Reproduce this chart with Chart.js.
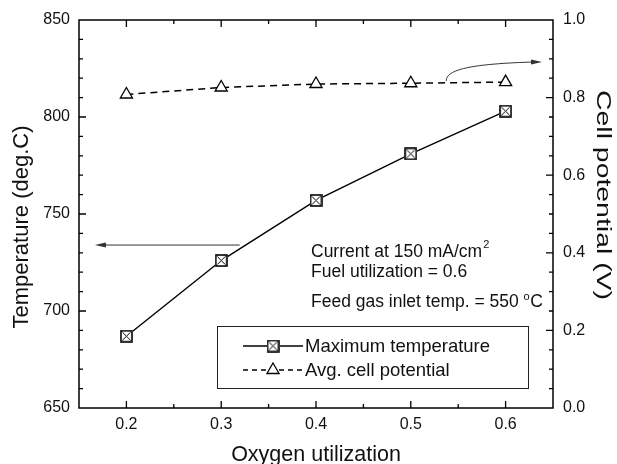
<!DOCTYPE html>
<html>
<head>
<meta charset="utf-8">
<script src="https://cdn.jsdelivr.net/npm/chart.js@4.4.1/dist/chart.umd.min.js"></script>
<style>
  html, body { margin: 0; padding: 0; background: #fff; }
  #wrap { width: 617px; height: 464px; }
</style>
</head>
<body>
<div id="wrap"><canvas id="chart" width="617" height="464"></canvas></div>
<script>
// oxygen utilization vs max temperature / avg cell potential
const oxygenUtil = [0.2, 0.3, 0.4, 0.5, 0.6];
const maxTemp = [687, 726, 757, 781, 803];
const avgPotential = [0.808, 0.826, 0.835, 0.837, 0.840];

const xTicks = [0.2, 0.3, 0.4, 0.5, 0.6];
const tempTicks = [650, 700, 750, 800, 850];
const voltTicks = [0, 0.2, 0.4, 0.6, 0.8, 1.0];

const FONT = '"Liberation Sans", Arial, Helvetica, sans-serif';
const INK = '#111';

// square marker with an X through it
function crossBox() {
  const s = 13;
  const c = document.createElement('canvas');
  c.width = s; c.height = s;
  const g = c.getContext('2d');
  g.fillStyle = '#fff';
  g.fillRect(0, 0, s, s);
  g.strokeStyle = '#000';
  g.lineWidth = 1.6;
  g.strokeRect(1, 1, s - 2, s - 2);
  g.lineWidth = 1;
  g.beginPath();
  g.moveTo(2.5, 2.5); g.lineTo(s - 2.5, s - 2.5);
  g.moveTo(s - 2.5, 2.5); g.lineTo(2.5, s - 2.5);
  g.stroke();
  return c;
}
const boxImg = crossBox();

function arrowHead(ctx, x, y, ang, len, half) {
  ctx.save();
  ctx.translate(x, y);
  ctx.rotate(ang);
  ctx.beginPath();
  ctx.moveTo(0, 0);
  ctx.lineTo(-len, -half);
  ctx.lineTo(-len, half);
  ctx.closePath();
  ctx.fill();
  ctx.restore();
}

const decorations = {
  id: 'decorations',
  afterDraw(chart) {
    const ctx = chart.ctx;
    const { left, right, top, bottom } = chart.chartArea;
    const sx = chart.scales.x, sy = chart.scales.y, sv = chart.scales.y2;

    ctx.save();
    // frame
    ctx.strokeStyle = '#000';
    ctx.lineWidth = 1.5;
    ctx.strokeRect(left, top, right - left, bottom - top);

    // inward ticks, all four sides
    ctx.lineWidth = 1.3;
    ctx.beginPath();
    for (let i = 4; i <= 12; i++) {
      const px = sx.getPixelForValue(i * 0.05);
      const len = i % 2 === 0 ? 7 : 4;
      ctx.moveTo(px, bottom); ctx.lineTo(px, bottom - len);
      ctx.moveTo(px, top); ctx.lineTo(px, top + len);
    }
    for (let t = 660; t < 850; t += 10) {
      const py = sy.getPixelForValue(t);
      const len = t % 50 === 0 ? 7 : 4;
      ctx.moveTo(left, py); ctx.lineTo(left + len, py);
    }
    for (let i = 1; i < 20; i++) {
      const py = sv.getPixelForValue(i * 0.05);
      const len = i % 4 === 0 ? 7 : 4;
      ctx.moveTo(right, py); ctx.lineTo(right - len, py);
    }
    ctx.stroke();

    // axis titles
    ctx.fillStyle = INK;
    ctx.textAlign = 'center';
    ctx.textBaseline = 'alphabetic';
    ctx.font = '21.5px ' + FONT;
    ctx.fillText('Oxygen utilization', (left + right) / 2, 461);

    ctx.save();
    ctx.font = '22px ' + FONT;
    ctx.translate(28, 227);
    ctx.rotate(-Math.PI / 2);
    ctx.fillText('Temperature (deg.C)', 0, 0);
    ctx.restore();

    ctx.save();
    ctx.font = '21px ' + FONT;
    const rt = 'Cell potential (V)';
    const w = ctx.measureText(rt).width;
    ctx.translate(597, 195);
    ctx.rotate(Math.PI / 2);
    ctx.scale(210 / w, 1);
    ctx.fillText(rt, 0, 0);
    ctx.restore();

    // arrows pointing at each axis
    ctx.strokeStyle = '#333';
    ctx.fillStyle = '#333';
    ctx.lineWidth = 1;
    const ay = sy.getPixelForValue(734);
    const ax0 = sx.getPixelForValue(0.3195), ax1 = sx.getPixelForValue(0.1668);
    ctx.beginPath();
    ctx.moveTo(ax0, ay); ctx.lineTo(ax1 + 6, ay);
    ctx.stroke();
    arrowHead(ctx, ax1, ay, Math.PI, 11, 2.5);

    const p0 = [sx.getPixelForValue(0.5374), sv.getPixelForValue(0.843)];
    const c1 = [sx.getPixelForValue(0.5374), sv.getPixelForValue(0.872)];
    const c2 = [sx.getPixelForValue(0.562), sv.getPixelForValue(0.887)];
    const p1 = [sx.getPixelForValue(0.6384), sv.getPixelForValue(0.892)];
    ctx.beginPath();
    ctx.moveTo(p0[0], p0[1]);
    ctx.bezierCurveTo(c1[0], c1[1], c2[0], c2[1], p1[0] - 6, p1[1]);
    ctx.stroke();
    arrowHead(ctx, p1[0], p1[1], 0, 11, 2.5);

    // operating conditions
    ctx.fillStyle = INK;
    ctx.textAlign = 'left';
    const big = '17.5px ' + FONT, small = '11px ' + FONT;
    ctx.font = big;
    let s1 = 'Current at 150 mA/cm';
    ctx.fillText(s1, 311, 257);
    let w1 = ctx.measureText(s1).width;
    ctx.font = small;
    ctx.fillText('2', 311 + w1 + 1, 248);
    ctx.font = big;
    ctx.fillText('Fuel utilization = 0.6', 311, 277);
    let s3 = 'Feed gas inlet temp. = 550 ';
    ctx.fillText(s3, 311, 307);
    let w3 = ctx.measureText(s3).width;
    ctx.font = small;
    ctx.fillText('o', 311 + w3, 300);
    let wo = ctx.measureText('o').width;
    ctx.font = big;
    ctx.fillText('C', 311 + w3 + wo + 0.5, 307);

    // legend box
    ctx.strokeStyle = '#222';
    ctx.lineWidth = 1;
    ctx.strokeRect(217.5, 326.5, 311, 62);
    const r1 = 346, r2 = 370;
    ctx.strokeStyle = '#000';
    ctx.lineWidth = 1.4;
    ctx.beginPath();
    ctx.moveTo(243, r1); ctx.lineTo(303, r1);
    ctx.stroke();
    ctx.drawImage(boxImg, 273 - boxImg.width / 2, r1 - boxImg.height / 2);
    ctx.setLineDash([5, 4]);
    ctx.beginPath();
    ctx.moveTo(243, r2); ctx.lineTo(303, r2);
    ctx.stroke();
    ctx.setLineDash([]);
    // triangle, same shape as the data points
    ctx.fillStyle = '#fff';
    ctx.beginPath();
    const tr = 7;
    for (let k = 0; k < 3; k++) {
      const a = k * 2 * Math.PI / 3;
      const tx = 273 + Math.sin(a) * tr, ty = r2 - Math.cos(a) * tr;
      if (k === 0) ctx.moveTo(tx, ty); else ctx.lineTo(tx, ty);
    }
    ctx.closePath();
    ctx.fill();
    ctx.lineWidth = 1.3;
    ctx.stroke();

    ctx.fillStyle = INK;
    ctx.font = '18.5px ' + FONT;
    ctx.textBaseline = 'middle';
    ctx.fillText('Maximum temperature', 305, r1 + 1);
    ctx.fillText('Avg. cell potential', 305, r2 + 1);
    ctx.restore();
  }
};

const tickFont = { family: FONT, size: 16 };

new Chart(document.getElementById('chart'), {
  type: 'line',
  data: {
    datasets: [
      {
        label: 'Maximum temperature',
        data: oxygenUtil.map((x, i) => ({ x: x, y: maxTemp[i] })),
        yAxisID: 'y',
        borderColor: '#000',
        borderWidth: 1.4,
        pointStyle: boxImg,
        pointRadius: 6,
        tension: 0
      },
      {
        label: 'Avg. cell potential',
        data: oxygenUtil.map((x, i) => ({ x: x, y: avgPotential[i] })),
        yAxisID: 'y2',
        borderColor: '#000',
        borderWidth: 1.5,
        borderDash: [7, 5],
        pointStyle: 'triangle',
        pointRadius: 7,
        pointBackgroundColor: '#fff',
        pointBorderColor: '#000',
        pointBorderWidth: 1.3,
        tension: 0
      }
    ]
  },
  options: {
    responsive: false,
    animation: false,
    devicePixelRatio: 1,
    layout: { padding: { top: 20, left: 0, right: 0, bottom: 0 } },
    plugins: {
      legend: { display: false },
      tooltip: { enabled: false }
    },
    scales: {
      x: {
        type: 'linear',
        min: 0.15,
        max: 0.65,
        afterBuildTicks: s => { s.ticks = xTicks.map(v => ({ value: v })); },
        afterFit: s => { s.height = 56; },
        ticks: { font: tickFont, color: INK, padding: 7, callback: v => v.toFixed(1) },
        grid: { display: false, drawTicks: false },
        border: { display: false }
      },
      y: {
        position: 'left',
        min: 650,
        max: 850,
        afterBuildTicks: s => { s.ticks = tempTicks.map(v => ({ value: v })); },
        afterFit: s => { s.width = 79; },
        ticks: { font: tickFont, color: INK, padding: 9 },
        grid: { display: false, drawTicks: false },
        border: { display: false }
      },
      y2: {
        position: 'right',
        min: 0,
        max: 1,
        afterBuildTicks: s => { s.ticks = voltTicks.map(v => ({ value: v })); },
        afterFit: s => { s.width = 64; },
        ticks: { font: tickFont, color: INK, padding: 10, callback: v => v.toFixed(1) },
        grid: { display: false, drawTicks: false },
        border: { display: false }
      }
    }
  },
  plugins: [decorations]
});
</script>
</body>
</html>
